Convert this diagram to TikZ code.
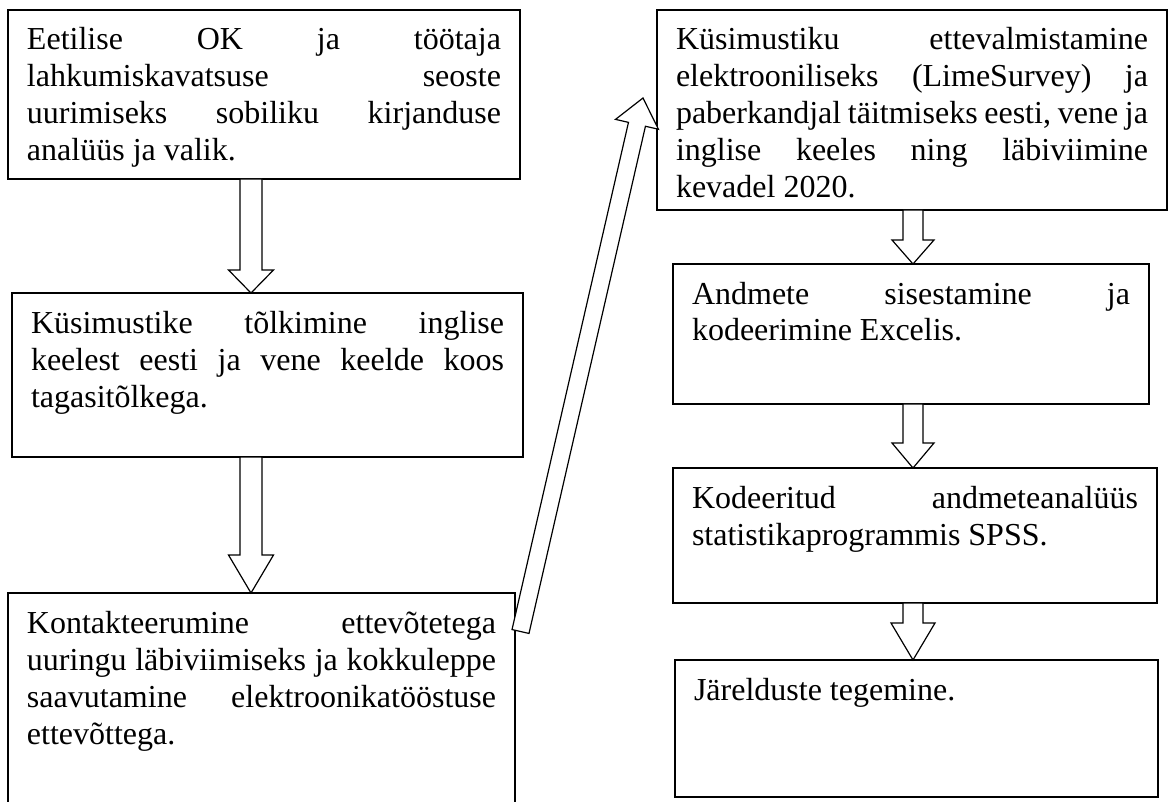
\documentclass[tikz,border=0pt]{standalone}
\usepackage{fontspec}
\setmainfont{Liberation Serif}
\usetikzlibrary{calc}

% one line of box text: strut fixes the 37pt line pitch
\newcommand\lstrut{\rule[-9pt]{0pt}{37pt}}
% justified line: spaces stretch evenly to the full width
\newcommand\justline[1]{\hbox to \hsize{\lstrut\spaceskip=8pt plus 1fil minus 3pt\relax #1}}
% last line of a paragraph, set at natural width
\newcommand\plainline[1]{\hbox{\lstrut #1}}
% box body: given text width, given box height, lines from the top
\newcommand\stepbody[3]{\vbox to #2{\hsize=#1\relax\hrule height 0pt depth 0pt width #1\relax\vskip 12pt\relax #3\vfil}}
% hollow block arrow from #1 to tip #2: shaft half width #3, head half width #4, head length #5
\newcommand\flowarrow[5]{%
  \coordinate (ba-h) at ($(#2)!#5!(#1)$);
  \draw[blockline] ($(#1)!#3!90:(#2)$) -- ($(ba-h)!#3!90:(#2)$) -- ($(ba-h)!#4!90:(#2)$)
    -- (#2) -- ($(ba-h)!#4!-90:(#2)$) -- ($(ba-h)!#3!-90:(#2)$) -- ($(#1)!#3!-90:(#2)$) -- cycle;}

\begin{document}
\begin{tikzpicture}[x=1pt,y=-1pt,
  stepbox/.style={draw=black, line width=1.3pt, fill=white, inner xsep=19pt, inner ysep=0pt,
    outer sep=0pt, anchor=north west, font=\fontsize{32pt}{37pt}\selectfont},
  blockline/.style={draw=black, line width=1.2pt, fill=white, line join=miter}]

\useasboundingbox (0,0) rectangle (1168,802);
\fill[white] (0,0) rectangle (1168,802);
\clip (0,0) rectangle (1168,802);

% left column
\node[stepbox] (b1) at (8,10) {\stepbody{474pt}{169pt}{%
  \justline{Eetilise OK ja töötaja}%
  \justline{lahkumiskavatsuse seoste}%
  \justline{uurimiseks sobiliku kirjanduse}%
  \plainline{analüüs ja valik.}}};

\node[stepbox] (b2) at (12,293) {\stepbody{473pt}{164pt}{%
  \justline{Küsimustike tõlkimine inglise}%
  \justline{keelest eesti ja vene keelde koos}%
  \plainline{tagasitõlkega.}}};

\node[stepbox] (b3) at (8,593) {\stepbody{469pt}{227pt}{%
  \justline{Kontakteerumine ettevõtetega}%
  \justline{uuringu läbiviimiseks ja kokkuleppe}%
  \justline{saavutamine elektroonikatööstuse}%
  \plainline{ettevõttega.}}};

% right column
\node[stepbox] (r1) at (657,10) {\stepbody{472pt}{200pt}{%
  \justline{Küsimustiku ettevalmistamine}%
  \justline{elektrooniliseks (LimeSurvey) ja}%
  \justline{paberkandjal täitmiseks eesti, vene ja}%
  \justline{inglise keeles ning läbiviimine}%
  \plainline{kevadel 2020.}}};

\node[stepbox] (r2) at (673,264) {\stepbody{438pt}{140pt}{%
  \justline{Andmete sisestamine ja}%
  \plainline{kodeerimine Excelis.}}};

\node[stepbox] (r3) at (673,468) {\stepbody{446pt}{135pt}{%
  \justline{Kodeeritud andmeteanalüüs}%
  \plainline{statistikaprogrammis SPSS.}}};

\node[stepbox] (r4) at (675,660) {\stepbody{445pt}{137pt}{%
  \plainline{Järelduste tegemine.}}};

% arrow ends
\coordinate (a1s) at ([xshift=-13pt]b1.south);
\coordinate (a1t) at ([xshift=-16.5pt]b2.north);
\coordinate (a2s) at ([xshift=-16.5pt]b2.south);
\coordinate (a2t) at ([xshift=-10.5pt]b3.north);
\coordinate (kS) at ([shift={(5.5,38.5)}]b3.north east);
\coordinate (kT) at ([shift={(-14,88)}]r1.north west);
\coordinate (c1s) at ([xshift=1pt]r1.south);
\coordinate (c1t) at ([xshift=2pt]r2.north);
\coordinate (c2s) at ([xshift=2pt]r2.south);
\coordinate (c2t) at ([xshift=-2pt]r3.north);
\coordinate (c3s) at ([xshift=-2pt]r3.south);
\coordinate (c3t) at ([xshift=-3.5pt]r4.north);

% block arrows
\flowarrow{a1s}{a1t}{11pt}{22.5pt}{23pt}
\flowarrow{a2s}{a2t}{11pt}{22.5pt}{38pt}
\flowarrow{kS}{kT}{8.7pt}{22pt}{27pt}
\flowarrow{c1s}{c1t}{10pt}{21pt}{24pt}
\flowarrow{c2s}{c2t}{10pt}{21pt}{25pt}
\flowarrow{c3s}{c3t}{10pt}{22pt}{37pt}

\end{tikzpicture}
\end{document}
